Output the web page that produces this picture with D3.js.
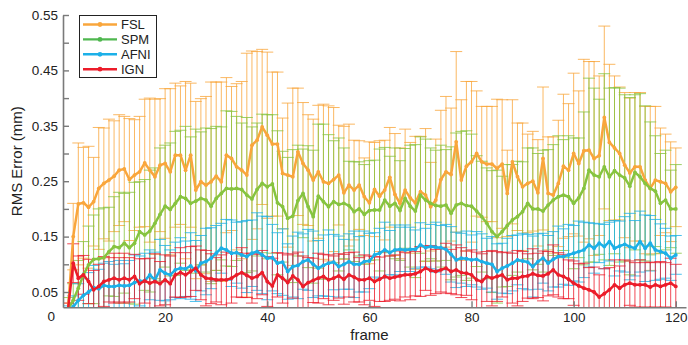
<!DOCTYPE html>
<html>
<head>
<meta charset="utf-8">
<script src="https://cdn.jsdelivr.net/npm/d3@7"></script>
<style>
  html, body { margin: 0; padding: 0; background: #fff; }
  svg { display: block; font-family: "Liberation Sans", Arial, sans-serif; }
</style>
</head>
<body>
<svg id="chart" width="688" height="345"></svg>
<script>
// series names / colours
const seriesNames = ['FSL', 'SPM', 'AFNI', 'IGN'];
const lineColors = ['#f9a63c', '#86c440', '#1cb0e8', '#ec1c2a'];
const legendColors = ['#f9a63c', '#4fb74f', '#1cb0e8', '#ec1c2a'];

// y ticks (labelled ones only get text)
const yTicks = [0.05, 0.1, 0.15, 0.2, 0.25, 0.3, 0.35, 0.4, 0.45, 0.5, 0.55];
const yLabelled = [0.05, 0.15, 0.25, 0.35, 0.45, 0.55];
const xTicks = [20, 40, 60, 80, 100, 120];

// mean RMS error per frame (frames 1..120)
const fslMean = [
  0.02, 0.15, 0.209, 0.211, 0.203, 0.213, 0.237, 0.246, 0.252, 0.259,
  0.27, 0.272, 0.253, 0.261, 0.267, 0.283, 0.27, 0.258, 0.279, 0.282,
  0.267, 0.297, 0.297, 0.27, 0.297, 0.234, 0.249, 0.243, 0.249, 0.259,
  0.249, 0.297, 0.291, 0.276, 0.27, 0.261, 0.315, 0.324, 0.348, 0.333,
  0.317, 0.317, 0.264, 0.261, 0.258, 0.303, 0.282, 0.27, 0.252, 0.267,
  0.249, 0.246, 0.253, 0.261, 0.229, 0.243, 0.234, 0.243, 0.222, 0.211,
  0.235, 0.223, 0.234, 0.257, 0.226, 0.21, 0.234, 0.22, 0.211, 0.231,
  0.225, 0.204, 0.216, 0.253, 0.267, 0.262, 0.321, 0.252, 0.277, 0.285,
  0.30, 0.285, 0.281, 0.281, 0.273, 0.281, 0.228, 0.285, 0.258, 0.24,
  0.246, 0.25, 0.229, 0.291, 0.228, 0.225, 0.246, 0.277, 0.27, 0.30,
  0.282, 0.305, 0.306, 0.291, 0.296, 0.365, 0.32, 0.31, 0.30, 0.279,
  0.265, 0.276, 0.276, 0.252, 0.237, 0.252, 0.249, 0.246, 0.231, 0.239
];
const fslErr = [
  0.01, 0.06, 0.11, 0.10, 0.11, 0.08, 0.11, 0.10, 0.11, 0.10,
  0.10, 0.095, 0.11, 0.10, 0.10, 0.115, 0.13, 0.14, 0.12, 0.135,
  0.15, 0.13, 0.125, 0.16, 0.13, 0.16, 0.15, 0.16, 0.18, 0.17,
  0.18, 0.14, 0.13, 0.15, 0.16, 0.22, 0.17, 0.16, 0.14, 0.15,
  0.13, 0.13, 0.10, 0.13, 0.16, 0.115, 0.11, 0.10, 0.11, 0.12,
  0.14, 0.14, 0.13, 0.09, 0.12, 0.11, 0.09, 0.08, 0.07, 0.11,
  0.085, 0.10, 0.09, 0.09, 0.11, 0.10, 0.11, 0.10, 0.12, 0.10,
  0.12, 0.08, 0.11, 0.125, 0.136, 0.12, 0.163, 0.145, 0.153, 0.145,
  0.113, 0.10, 0.104, 0.104, 0.125, 0.116, 0.078, 0.112, 0.097, 0.115,
  0.089, 0.09, 0.096, 0.129, 0.102, 0.105, 0.114, 0.13, 0.12, 0.145,
  0.131, 0.165, 0.16, 0.175, 0.144, 0.165, 0.141, 0.13, 0.12, 0.131,
  0.135, 0.134, 0.134, 0.133, 0.148, 0.133, 0.097, 0.089, 0.09, 0.071
];
const spmMean = [
  0.02, 0.035, 0.057, 0.081, 0.099, 0.109, 0.11, 0.112, 0.123, 0.132,
  0.13, 0.138, 0.13, 0.138, 0.159, 0.153, 0.16, 0.174, 0.19, 0.205,
  0.199, 0.21, 0.222, 0.219, 0.21, 0.214, 0.219, 0.216, 0.205, 0.219,
  0.228, 0.237, 0.236, 0.237, 0.235, 0.225, 0.218, 0.235, 0.246, 0.24,
  0.245, 0.211, 0.204, 0.183, 0.187, 0.215, 0.228, 0.204, 0.186, 0.223,
  0.213, 0.204, 0.213, 0.208, 0.21, 0.206, 0.195, 0.2, 0.19, 0.197,
  0.198, 0.198, 0.216, 0.205, 0.21, 0.197, 0.219, 0.205, 0.196, 0.225,
  0.216, 0.21, 0.206, 0.205, 0.207, 0.192, 0.207, 0.21, 0.206, 0.205,
  0.196, 0.186, 0.174, 0.159, 0.15, 0.159, 0.17, 0.18, 0.186, 0.195,
  0.21, 0.2, 0.2, 0.196, 0.207, 0.216, 0.222, 0.225, 0.222, 0.21,
  0.22, 0.237, 0.27, 0.261, 0.258, 0.276, 0.258, 0.269, 0.261, 0.256,
  0.241, 0.266, 0.258, 0.246, 0.237, 0.232, 0.21, 0.216, 0.2, 0.2
];
const spmErr = [
  0.02, 0.03, 0.05, 0.06, 0.07, 0.08, 0.09, 0.09, 0.08, 0.09,
  0.10, 0.09, 0.10, 0.11, 0.09, 0.10, 0.11, 0.10, 0.12, 0.11,
  0.12, 0.13, 0.12, 0.13, 0.12, 0.13, 0.12, 0.13, 0.14, 0.13,
  0.12, 0.14, 0.14, 0.13, 0.12, 0.14, 0.13, 0.12, 0.125, 0.13,
  0.125, 0.13, 0.10, 0.11, 0.12, 0.10, 0.08, 0.11, 0.12, 0.13,
  0.14, 0.13, 0.11, 0.12, 0.10, 0.08, 0.09, 0.085, 0.09, 0.09,
  0.09, 0.11, 0.095, 0.09, 0.10, 0.09, 0.09, 0.11, 0.12, 0.105,
  0.11, 0.10, 0.10, 0.11, 0.10, 0.12, 0.13, 0.13, 0.135, 0.13,
  0.10, 0.10, 0.10, 0.11, 0.12, 0.10, 0.11, 0.10, 0.10, 0.09,
  0.10, 0.11, 0.10, 0.11, 0.10, 0.10, 0.11, 0.10, 0.11, 0.118,
  0.108, 0.138, 0.166, 0.157, 0.14, 0.168, 0.16, 0.15, 0.157, 0.15,
  0.16, 0.14, 0.15, 0.14, 0.12, 0.10, 0.09, 0.09, 0.07, 0.08
];
const afniMean = [
  0.015, 0.023, 0.035, 0.044, 0.05, 0.058, 0.056, 0.062, 0.06, 0.06,
  0.062, 0.061, 0.062, 0.067, 0.07, 0.07, 0.081, 0.072, 0.09, 0.084,
  0.081, 0.09, 0.093, 0.092, 0.097, 0.088, 0.102, 0.105, 0.111, 0.12,
  0.129, 0.126, 0.12, 0.121, 0.117, 0.114, 0.12, 0.123, 0.117, 0.111,
  0.112, 0.102, 0.104, 0.087, 0.096, 0.098, 0.105, 0.108, 0.1, 0.093,
  0.098, 0.102, 0.104, 0.096, 0.1, 0.105, 0.1, 0.1, 0.105, 0.106,
  0.117, 0.12, 0.126, 0.121, 0.126, 0.127, 0.126, 0.127, 0.127, 0.135,
  0.13, 0.132, 0.131, 0.13, 0.127, 0.118, 0.108, 0.111, 0.11, 0.108,
  0.109, 0.105, 0.102, 0.1, 0.087, 0.093, 0.097, 0.102, 0.108, 0.106,
  0.104, 0.096, 0.105, 0.111, 0.102, 0.109, 0.114, 0.114, 0.117, 0.12,
  0.123, 0.126, 0.135, 0.129, 0.138, 0.132, 0.141, 0.129, 0.133, 0.136,
  0.132, 0.129, 0.141, 0.129, 0.138, 0.126, 0.123, 0.12, 0.111, 0.117
];
const afniErr = [
  0.01, 0.02, 0.03, 0.03, 0.035, 0.04, 0.035, 0.04, 0.045, 0.04,
  0.045, 0.04, 0.045, 0.05, 0.045, 0.05, 0.045, 0.05, 0.055, 0.05,
  0.045, 0.05, 0.055, 0.05, 0.06, 0.055, 0.05, 0.06, 0.055, 0.05,
  0.045, 0.055, 0.06, 0.055, 0.06, 0.065, 0.06, 0.07, 0.07, 0.075,
  0.06, 0.055, 0.06, 0.05, 0.055, 0.06, 0.05, 0.055, 0.06, 0.05,
  0.055, 0.06, 0.05, 0.055, 0.045, 0.05, 0.06, 0.05, 0.055, 0.05,
  0.04, 0.045, 0.05, 0.04, 0.045, 0.04, 0.045, 0.04, 0.035, 0.04,
  0.035, 0.04, 0.045, 0.04, 0.045, 0.05, 0.05, 0.045, 0.05, 0.045,
  0.05, 0.05, 0.045, 0.05, 0.05, 0.045, 0.05, 0.05, 0.045, 0.05,
  0.05, 0.055, 0.05, 0.045, 0.05, 0.05, 0.055, 0.05, 0.055, 0.05,
  0.055, 0.05, 0.04, 0.045, 0.035, 0.04, 0.035, 0.05, 0.045, 0.05,
  0.06, 0.05, 0.055, 0.06, 0.05, 0.055, 0.05, 0.045, 0.04, 0.035
];
const ignMean = [
  0.02, 0.102, 0.075, 0.081, 0.069, 0.054, 0.06, 0.069, 0.072, 0.075,
  0.072, 0.075, 0.072, 0.078, 0.065, 0.07, 0.066, 0.069, 0.065, 0.072,
  0.065, 0.081, 0.085, 0.081, 0.087, 0.093, 0.081, 0.075, 0.074, 0.072,
  0.072, 0.072, 0.075, 0.081, 0.085, 0.08, 0.075, 0.078, 0.085, 0.069,
  0.061, 0.081, 0.075, 0.067, 0.079, 0.072, 0.06, 0.067, 0.071, 0.075,
  0.078, 0.072, 0.075, 0.079, 0.073, 0.081, 0.077, 0.072, 0.072, 0.075,
  0.069, 0.073, 0.078, 0.075, 0.077, 0.079, 0.081, 0.081, 0.083, 0.087,
  0.093, 0.089, 0.087, 0.09, 0.093, 0.087, 0.09, 0.085, 0.084, 0.081,
  0.072, 0.069, 0.078, 0.075, 0.078, 0.081, 0.072, 0.075, 0.075, 0.078,
  0.079, 0.083, 0.08, 0.079, 0.083, 0.09, 0.081, 0.078, 0.073, 0.066,
  0.061, 0.057, 0.054, 0.05, 0.041, 0.047, 0.054, 0.063, 0.057, 0.063,
  0.066, 0.063, 0.063, 0.063, 0.059, 0.063, 0.06, 0.063, 0.066, 0.06
];
const ignErr = [
  0.01, 0.035, 0.04, 0.035, 0.04, 0.035, 0.04, 0.045, 0.04, 0.045,
  0.04, 0.045, 0.04, 0.04, 0.045, 0.04, 0.045, 0.05, 0.04, 0.045,
  0.05, 0.04, 0.045, 0.04, 0.045, 0.04, 0.045, 0.05, 0.045, 0.04,
  0.045, 0.05, 0.045, 0.04, 0.045, 0.04, 0.045, 0.04, 0.04, 0.045,
  0.05, 0.04, 0.045, 0.05, 0.04, 0.05, 0.055, 0.045, 0.04, 0.045,
  0.04, 0.045, 0.04, 0.04, 0.045, 0.04, 0.045, 0.04, 0.045, 0.04,
  0.045, 0.04, 0.045, 0.04, 0.04, 0.045, 0.04, 0.045, 0.04, 0.045,
  0.04, 0.045, 0.04, 0.04, 0.045, 0.04, 0.045, 0.045, 0.04, 0.045,
  0.05, 0.05, 0.045, 0.05, 0.045, 0.04, 0.05, 0.045, 0.05, 0.045,
  0.04, 0.045, 0.04, 0.045, 0.04, 0.045, 0.04, 0.04, 0.035, 0.04,
  0.04, 0.045, 0.04, 0.045, 0.04, 0.045, 0.04, 0.045, 0.04, 0.045,
  0.04, 0.04, 0.045, 0.04, 0.045, 0.04, 0.045, 0.04, 0.045, 0.04
];

function draw () {
  const svg = d3.select('#chart');
  const left = 63, right = 686, top = 15, bottom = 307.3;

  const x = d3.scaleLinear().domain([0, 122]).range([left, right]);
  const y = d3.scaleLinear().domain([0.0224, 0.55]).range([bottom, top]);

  const series = [
    { name: seriesNames[0], mean: fslMean, err: fslErr },
    { name: seriesNames[1], mean: spmMean, err: spmErr },
    { name: seriesNames[2], mean: afniMean, err: afniErr },
    { name: seriesNames[3], mean: ignMean, err: ignErr }
  ].map((s, i) => ({
    ...s,
    color: lineColors[i],
    points: s.mean.map((m, j) => ({ frame: j + 1, mean: m, err: s.err[j] }))
  }));

  svg.append('clipPath').attr('id', 'plot-clip')
    .append('rect')
    .attr('x', left).attr('y', top - 2)
    .attr('width', right - left).attr('height', bottom - top + 2);

  const plot = svg.append('g').attr('clip-path', 'url(#plot-clip)');
  const capHalf = 6;

  // error bars first, all series
  series.forEach(s => {
    const g = plot.append('g')
      .attr('stroke', s.color)
      .attr('stroke-width', 1)
      .attr('stroke-opacity', 0.8)
      .attr('fill', 'none');
    const bars = g.selectAll('g.bar').data(s.points).join('g').attr('class', 'bar');
    bars.append('line')
      .attr('x1', d => x(d.frame)).attr('x2', d => x(d.frame))
      .attr('y1', d => y(d.mean - d.err)).attr('y2', d => y(d.mean + d.err));
    bars.append('line')
      .attr('x1', d => x(d.frame) - capHalf).attr('x2', d => x(d.frame) + capHalf)
      .attr('y1', d => y(d.mean + d.err)).attr('y2', d => y(d.mean + d.err));
    bars.append('line')
      .attr('x1', d => x(d.frame) - capHalf).attr('x2', d => x(d.frame) + capHalf)
      .attr('y1', d => y(d.mean - d.err)).attr('y2', d => y(d.mean - d.err));
  });

  // mean lines on top
  const line = d3.line()
    .x(d => x(d.frame))
    .y(d => y(d.mean));

  series.forEach(s => {
    plot.append('path')
      .datum(s.points)
      .attr('fill', 'none')
      .attr('stroke', s.color)
      .attr('stroke-width', 2.5)
      .attr('stroke-linejoin', 'round')
      .attr('d', line);
    plot.append('g')
      .attr('fill', s.color)
      .selectAll('circle')
      .data(s.points)
      .join('circle')
      .attr('cx', d => x(d.frame))
      .attr('cy', d => y(d.mean))
      .attr('r', 1.9);
  });

  // axes
  const axisColor = '#7a7a7a';
  const yAxis = svg.append('g')
    .attr('transform', `translate(${left},0)`)
    .call(d3.axisLeft(y)
      .tickValues(yTicks)
      .tickSizeInner(-6)
      .tickSizeOuter(0)
      .tickPadding(5)
      .tickFormat(d => yLabelled.some(v => Math.abs(v - d) < 1e-9) ? d.toFixed(2) : ''));
  yAxis.select('.domain').attr('stroke', axisColor).attr('stroke-width', 1.6);
  yAxis.selectAll('.tick line').attr('stroke', axisColor).attr('stroke-width', 1.4);
  yAxis.selectAll('.tick text')
    .attr('fill', '#222')
    .style('font-size', '13.5px');
  yAxis.append('text')
    .attr('x', -8)
    .attr('y', y(0) - 3)
    .attr('dy', '0.35em')
    .attr('text-anchor', 'end')
    .attr('fill', '#222')
    .style('font-size', '13.5px')
    .text('0');

  const xAxis = svg.append('g')
    .attr('transform', `translate(0,${bottom})`)
    .call(d3.axisBottom(x)
      .tickValues(xTicks)
      .tickSizeInner(-6)
      .tickSizeOuter(0)
      .tickPadding(5));
  xAxis.select('.domain').attr('stroke', axisColor).attr('stroke-width', 1.6);
  xAxis.selectAll('.tick line').attr('stroke', axisColor).attr('stroke-width', 1.4);
  xAxis.selectAll('.tick text')
    .attr('fill', '#222')
    .style('font-size', '13.5px');

  // axis titles
  svg.append('text')
    .attr('x', (x(0) + x(120)) / 2)
    .attr('y', 340)
    .attr('text-anchor', 'middle')
    .attr('fill', '#222')
    .style('font-size', '15px')
    .text('frame');

  svg.append('text')
    .attr('transform', `translate(22,${(top + bottom) / 2}) rotate(-90)`)
    .attr('text-anchor', 'middle')
    .attr('fill', '#222')
    .style('font-size', '15px')
    .text('RMS Error (mm)');

  // legend
  const legend = svg.append('g').attr('transform', 'translate(79,15)');
  legend.append('rect')
    .attr('x', 0.5).attr('y', 0.5)
    .attr('width', 77).attr('height', 62)
    .attr('fill', '#fff')
    .attr('stroke', '#222')
    .attr('stroke-width', 1);
  const items = legend.selectAll('g.item')
    .data(seriesNames)
    .join('g')
    .attr('class', 'item')
    .attr('transform', (d, i) => `translate(0,${9.5 + i * 14.9})`);
  items.append('line')
    .attr('x1', 4).attr('x2', 38)
    .attr('stroke', (d, i) => legendColors[i])
    .attr('stroke-width', 2.4);
  items.append('circle')
    .attr('cx', 21).attr('r', 2.4)
    .attr('fill', (d, i) => legendColors[i]);
  items.append('text')
    .attr('x', 42)
    .attr('dy', '0.36em')
    .attr('fill', '#222')
    .style('font-size', '13px')
    .text(d => d);
}

draw();
</script>
</body>
</html>
